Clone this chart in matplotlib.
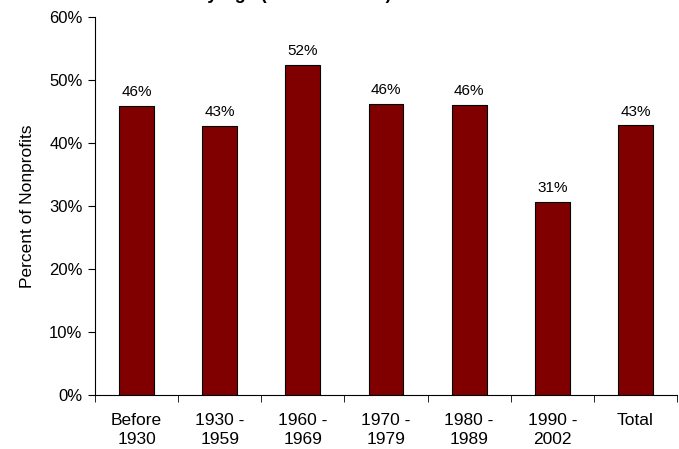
import matplotlib.pyplot as plt
import numpy as np

plt.rcParams['font.family'] = ['Liberation Sans', 'DejaVu Sans']

categories = ['Before\n1930', '1930 -\n1959', '1960 -\n1969', '1970 -\n1979',
              '1980 -\n1989', '1990 -\n2002', 'Total']
percents = [45.9, 42.7, 52.4, 46.2, 46.1, 30.7, 42.8]

fig = plt.figure(figsize=(6.79, 4.49), dpi=100)
ax = fig.add_axes([0.140, 0.120, 0.857, 0.842])

x = np.arange(len(categories))
bars = ax.bar(x, percents, width=0.42, color='#800000', edgecolor='black', linewidth=0.8)

for xi, v in zip(x, percents):
    ax.text(xi, v + 1.1, '%d%%' % round(v), ha='center', va='bottom', fontsize=11)

ax.set_xlim(-0.5, len(categories) - 0.5)
ax.set_ylim(0, 60)
ax.set_yticks(range(0, 61, 10))
ax.set_yticklabels(['%d%%' % t for t in range(0, 61, 10)], fontsize=12)

# category labels centred, tick marks sit between the bars
ax.set_xticks(x)
ax.set_xticklabels(categories, fontsize=12.5, linespacing=1.35)
ax.tick_params(axis='x', length=0, pad=13)
ax.set_xticks(np.arange(-0.5, len(categories)), minor=True)
ax.tick_params(axis='x', which='minor', length=5, direction='out')
ax.tick_params(axis='y', length=5, direction='out', pad=4)

ax.spines['top'].set_visible(False)
ax.spines['right'].set_visible(False)
ax.set_ylabel('Percent of Nonprofits', fontsize=12.5, labelpad=10)

# title sits above the canvas, only its descenders reach the top edge
fig.text(0.577, 1.003, 'Share with Endowment by Age (Year Founded)', ha='right', va='baseline',
         fontsize=13, fontweight='bold')

fig.savefig('out.png', dpi=100)
